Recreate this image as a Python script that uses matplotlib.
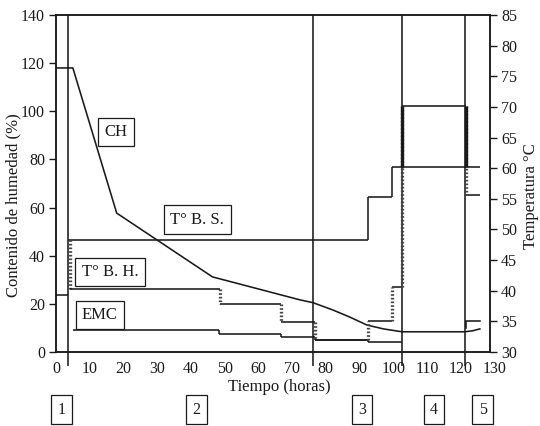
import matplotlib
matplotlib.use("Agg")
import matplotlib.pyplot as plt

plt.rcParams["font.family"] = ["Liberation Serif", "DejaVu Serif"]
INK = "#1a1a1a"

# phase boundaries (h) and phase numbers
phase_edges = [3.6, 76.3, 102.7, 121.4]
phase_names = ["1", "2", "3", "4", "5"]
phase_label_x = [1.6, 41.7, 90.7, 112.1, 126.5]

# moisture content CH (%)
ch_t = [0, 5, 18, 46.4, 72.5, 76.2, 82.2, 87.3, 92.2, 97.1, 102.6, 121.2, 123.5, 125.7]
ch_v = [118, 118, 57.7, 31.2, 21.6, 20.5, 17.4, 14.4, 11.2, 9.6, 8.4, 8.4, 8.8, 9.6]

# equilibrium moisture content EMC (%), step edges + values
emc_t = [5, 48.3, 66.6, 76.9, 92.6, 102.7]
emc_v = [9.1, 7.5, 6.2, 4.8, 4.2]
emc_end_t = [121.6, 121.6, 125.7]
emc_end_v = [10.0, 12.9, 12.9]

# dry bulb T (°C), step edges + values
bs_t = [3.6, 92.6, 99.7, 125.7]
bs_v = [48.3, 55.3, 60.2]

# wet bulb T (°C), step edges + values
bh_t = [4.2, 48.5, 66.6, 76.9, 92.6, 99.7, 102.7, 121.6, 125.7]
bh_v = [40.3, 37.8, 34.9, 32.0, 35.1, 40.6, 70.1, 55.6]
t_ini_t = [0, 3.6]
t_ini_v = 39.3

fig = plt.figure(figsize=(5.4, 4.26), dpi=100)
ax = fig.add_axes([56/540, 1-352/426, 434/540, 337/426])
ax2 = ax.twinx()

ax.set_xlim(0, 128.7)
ax.set_ylim(0, 140)
ax2.set_ylim(30, 85)
ax.set_xticks(range(0, 121, 10))
ax.set_yticks(range(0, 141, 20))
ax2.set_yticks(range(30, 86, 5))
ax.tick_params(axis="x", length=0, pad=6.5, labelsize=11.5, colors=INK)
ax.tick_params(axis="y", direction="out", length=5, width=1, pad=3, labelsize=11.5, colors=INK)
ax2.tick_params(axis="y", direction="out", length=5, width=1, pad=3, labelsize=11.5, colors=INK)
ax.text(130, -0.027, "130", transform=ax.get_xaxis_transform(), ha="center", va="top",
        fontsize=11.5, color=INK, clip_on=False)
for a in (ax, ax2):
    for s in a.spines.values():
        s.set_linewidth(1.1)
        s.set_color(INK)

lw = 1.15
# phase separators
ax.vlines(phase_edges, -6, 140, color=INK, lw=lw, clip_on=False)

# CH curve
ax.plot(ch_t, ch_v, color=INK, lw=lw)

# EMC steps
for i, v in enumerate(emc_v):
    ax.hlines(v, emc_t[i], emc_t[i+1], color=INK, lw=lw)
    if i > 0:
        ax.vlines(emc_t[i], v, emc_v[i-1], color=INK, lw=lw)
ax.plot(emc_end_t, emc_end_v, color=INK, lw=lw)

# dry bulb
for i, v in enumerate(bs_v):
    ax2.hlines(v, bs_t[i], bs_t[i+1], color=INK, lw=lw)
    if i > 0:
        ax2.vlines(bs_t[i], bs_v[i-1], v, color=INK, lw=lw)

# wet bulb (dotted transitions)
dots = dict(color="#444444", lw=2.4, linestyles=[(0, (0.5, 0.6))])
ax2.hlines(t_ini_v, t_ini_t[0], t_ini_t[1], color=INK, lw=lw)
ax2.vlines(bh_t[0], bh_v[0], bs_v[0], **dots)
for i, v in enumerate(bh_v):
    ax2.hlines(v, bh_t[i], bh_t[i+1], color=INK, lw=lw)
    if i > 0:
        ax2.vlines(bh_t[i], bh_v[i-1], v, **dots)
ax2.vlines([bh_t[6], bh_t[7]], bs_v[-1], bh_v[6], color=INK, lw=2.4)

# curve labels
box = dict(boxstyle="square,pad=0.38", fc="white", ec=INK, lw=0.9)
for x, y, s in [(17.8, 91.4, "CH"), (41.9, 55.0, "T° B. S."),
                (16.0, 33.2, "T° B. H."), (13.0, 15.4, "EMC")]:
    ax.text(x, y, s, ha="center", va="center", fontsize=12, color=INK, bbox=box, zorder=5)

# phase number boxes
nbox = dict(boxstyle="square,pad=0.4", fc="white", ec=INK, lw=0.9)
for x, s in zip(phase_label_x, phase_names):
    ax.text(x, -24, s, ha="center", va="center", fontsize=11.5, color=INK, bbox=nbox, clip_on=False)

fig.text(279/540, 1-387/426, "Tiempo (horas)", ha="center", va="center", fontsize=12, color=INK)
fig.text(13/540, 1-205/426, "Contenido de humedad (%)", rotation=90, ha="center", va="center",
         fontsize=12, color=INK)
fig.text(531/540, 1-196/426, "Temperatura °C", rotation=90, ha="center", va="center",
         fontsize=12, color=INK)

fig.savefig("out.png", dpi=100, facecolor="white")
